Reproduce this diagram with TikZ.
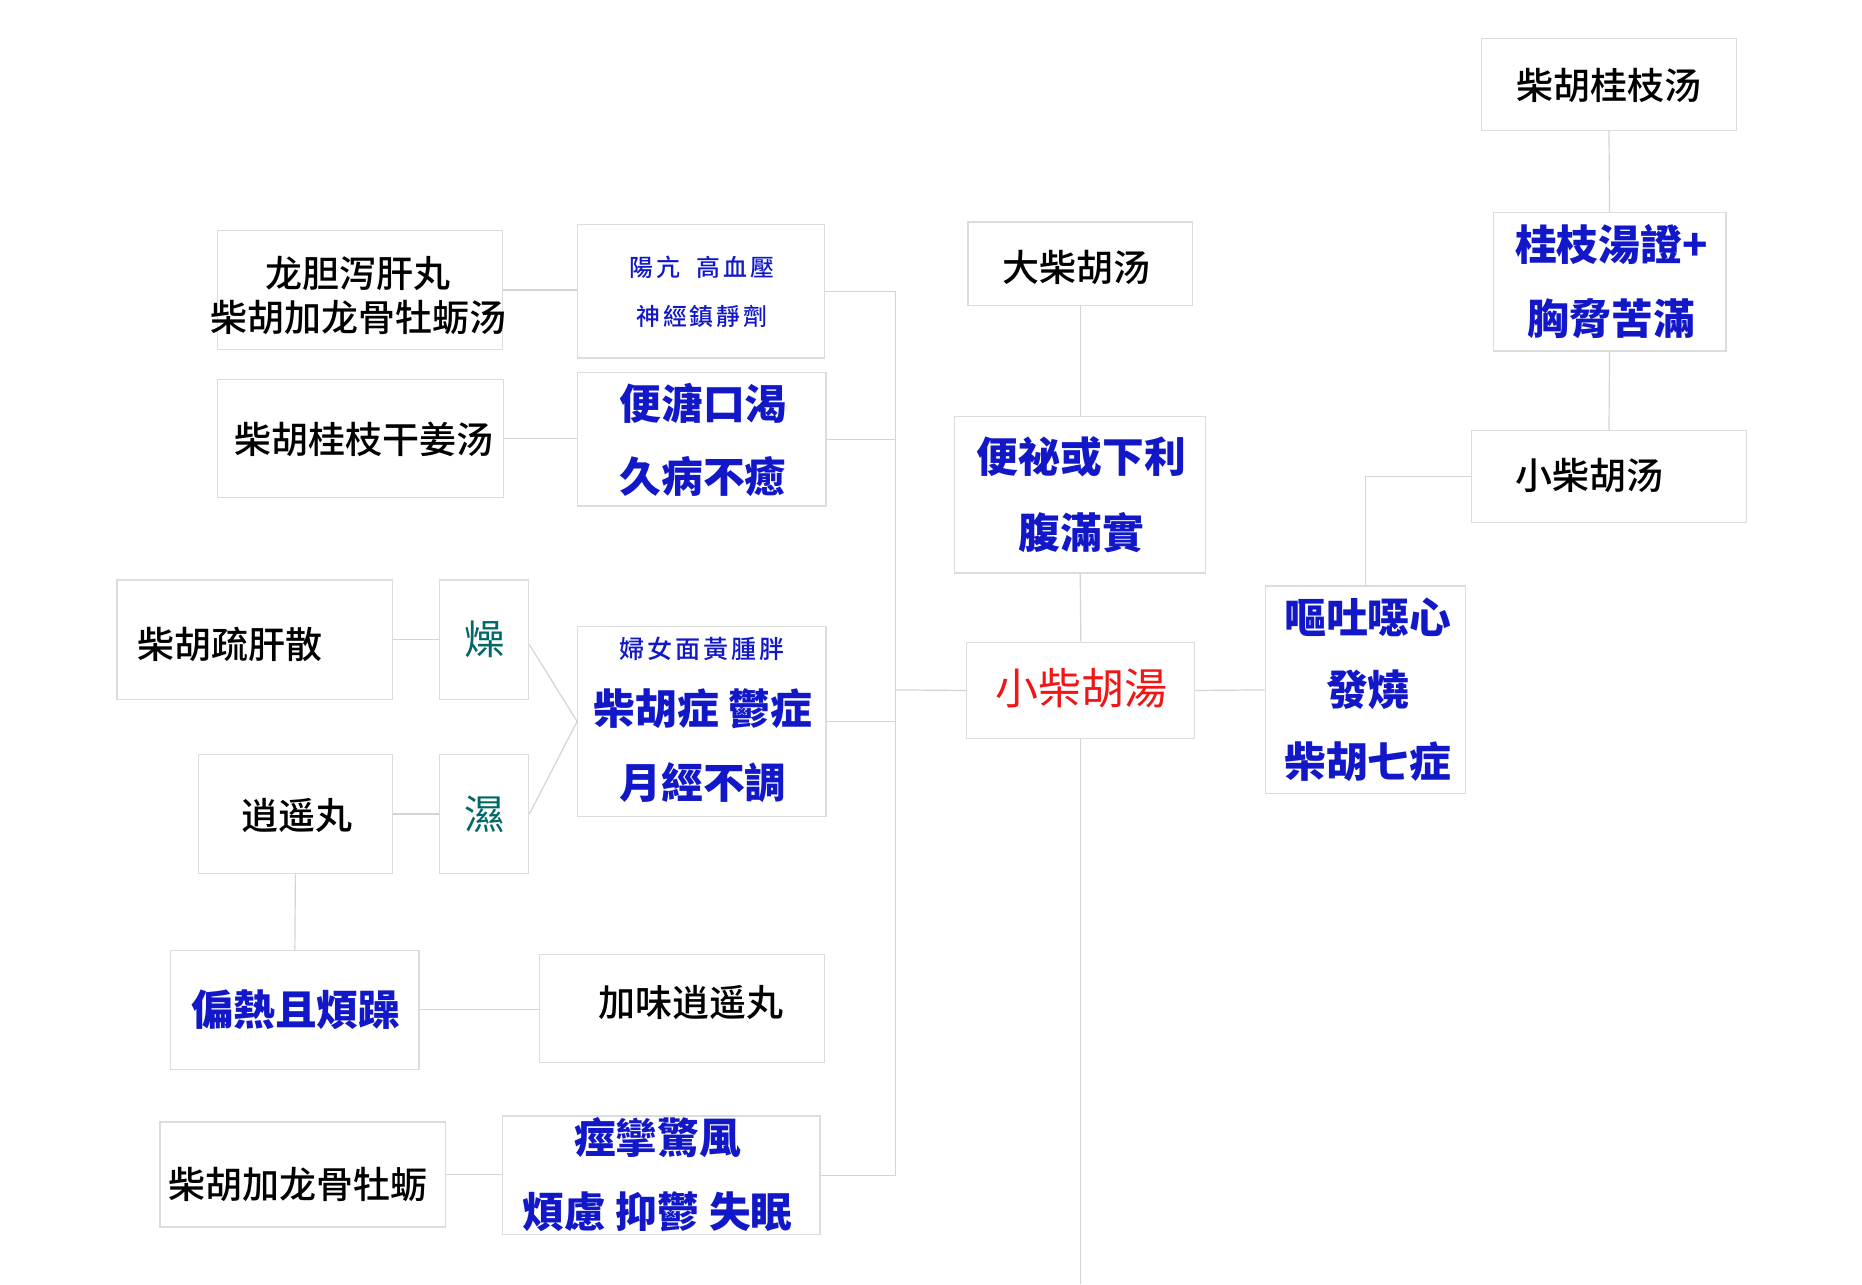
\documentclass[tikz,border=0pt]{standalone}
\usepackage{fontspec}
\newfontfamily\cjksc{Noto Sans CJK SC Medium}
\newfontfamily\cjktc{Noto Sans CJK TC}
\newfontfamily\cjktcm{Noto Sans CJK TC Medium}[LetterSpace=12]
\definecolor{xblue}{RGB}{18,24,200}
\definecolor{xred}{RGB}{240,22,22}
\definecolor{xteal}{RGB}{0,104,104}
\definecolor{linegray}{RGB}{212,212,212}
\definecolor{boxgray}{RGB}{220,220,220}
\tikzset{
  box/.style={draw=boxgray, line width=1pt, inner sep=0pt, fill=white},
  conn/.style={draw=linegray, line width=1pt},
  blk/.style={inner sep=0pt, text=black, align=center, font=\cjksc\fontsize{31}{37}\selectfont},
  blu/.style={inner sep=0pt, text=xblue, align=center, font=\cjktc\bfseries\fontsize{35}{62}\selectfont},
  blus/.style={inner sep=0pt, text=xblue, align=center, font=\cjktcm\fontsize{20}{41}\selectfont},
  redt/.style={inner sep=0pt, text=xred, font=\cjktc\fontsize{36}{40}\selectfont},
  tealt/.style={inner sep=0pt, text=xteal, font=\cjktc\fontsize{34}{40}\selectfont},
}
\begin{document}
\begin{tikzpicture}[x=1pt,y=-1pt]
\useasboundingbox[fill=white] (0,0) rectangle (1560,1076);
% boxes
\node[box, minimum width=214pt, minimum height=77pt]  (gzt)  at (1348,70.5) {};
\node[box, minimum width=195pt, minimum height=116pt] (gzz)  at (1348.5,236) {};
\node[box, minimum width=230pt, minimum height=77pt]  (xch)  at (1348,399.5) {};
\node[box, minimum width=168pt, minimum height=174pt] (otu)  at (1144,578) {};
\node[box, minimum width=191pt, minimum height=81pt]  (xchr) at (905.5,578.5) {};
\node[box, minimum width=210pt, minimum height=131pt] (bm)   at (905,414.5) {};
\node[box, minimum width=188pt, minimum height=70pt]  (dch)  at (905,221) {};
\node[box, minimum width=239pt, minimum height=100pt] (ld)   at (301.5,243) {};
\node[box, minimum width=207pt, minimum height=112pt] (yk)   at (587.5,244) {};
\node[box, minimum width=240pt, minimum height=99pt]  (gzgj) at (302,367.5) {};
\node[box, minimum width=208pt, minimum height=112pt] (bt)   at (588,368) {};
\node[box, minimum width=231pt, minimum height=100pt] (sg)   at (213.5,536) {};
\node[box, minimum width=75pt,  minimum height=100pt] (zao)  at (405.5,536) {};
\node[box, minimum width=208pt, minimum height=159pt] (fn)   at (588,604.5) {};
\node[box, minimum width=163pt, minimum height=100pt] (xy)   at (247.5,682) {};
\node[box, minimum width=75pt,  minimum height=100pt] (shi)  at (405.5,682) {};
\node[box, minimum width=208pt, minimum height=100pt] (pr)   at (247,846) {};
\node[box, minimum width=239pt, minimum height=90pt]  (jw)   at (571.5,845) {};
\node[box, minimum width=239pt, minimum height=88pt]  (lg)   at (253.5,984) {};
\node[box, minimum width=266pt, minimum height=99pt]  (jl)   at (554,984.5) {};
% free ends
\coordinate (bus) at (750,578);
\coordinate (bottom) at (907,1076);
% connectors
\draw[conn] (gzt.south) -- (gzz.north);
\draw[conn] (gzz.south) -- (xch.north);
\draw[conn] (xch.west) -| (otu.north);
\draw[conn] (otu.west) -- (xchr.east);
\draw[conn] (dch.south) -- (bm.north);
\draw[conn] (bm.south) -- (xchr.north);
\draw[conn] (xchr.south) -- (xchr.south |- bottom);
\draw[conn] (yk.east) -- (yk.east -| bus) |- (jl.east);
\draw[conn] (bt.east) -- (bt.east -| bus);
\draw[conn] (fn.east) -- (fn.east -| bus);
\draw[conn] (xchr.west) -- (bus);
\draw[conn] (ld.east) -- (ld.east -| yk.west);
\draw[conn] (gzgj.east) -- (gzgj.east -| bt.west);
\draw[conn] (sg.east) -- (zao.west);
\draw[conn] ([yshift=-4pt]zao.east) -- (fn.west);
\draw[conn] (xy.east) -- (shi.west);
\draw[conn] (shi.east) -- (fn.west);
\draw[conn] (xy.south) -- (pr.north);
\draw[conn] (pr.east) -- (pr.east -| jw.west);
\draw[conn] (lg.east) -- (lg.east -| jl.west);
% texts
\node[blk]  (t1)  at (1348,72)   {柴胡桂枝汤};
\node[blu]  (t2)  at (1350,236)  {桂枝湯證+\\胸脅苦滿};
\node[blk]  (t3)  at (1332,398)  {小柴胡汤};
\node[blu, font=\cjktc\bfseries\fontsize{35}{60.5}\selectfont] (t4) at (1146,578) {嘔吐噁心\\發燒\\柴胡七症};
\node[redt] (t5)  at (906,577)   {小柴胡湯};
\node[blu, font=\cjktc\bfseries\fontsize{35}{63}\selectfont] (t6) at (906,414.5) {便祕或下利\\腹滿實};
\node[blk]  (t7)  at (902,224)   {大柴胡汤};
\node[blk]  (t8)  at (300,247.5) {龙胆泻肝丸\\柴胡加龙骨牡蛎汤};
\node[blus] (t9)  at (588,244.5) {陽亢\hspace{0.7em}高血壓\\神經鎮靜劑};
\node[blk]  (t10) at (305,368)   {柴胡桂枝干姜汤};
\node[blu, font=\cjktc\bfseries\fontsize{35}{61}\selectfont] (t11) at (589,368.5) {便溏口渴\\久病不癒};
\node[blk]  (t12) at (193,540)   {柴胡疏肝散};
\node[tealt] (t13) at (406,536)  {燥};
\node[blus, font=\cjktcm\fontsize{21}{30}\selectfont] (t14) at (588,544) {婦女面黃腫胖};
\node[blu]  (t15) at (589,594)   {柴胡症 鬱症};
\node[blu]  (t16) at (589,656)   {月經不調};
\node[blk]  (t17) at (249,683)   {逍遥丸};
\node[tealt] (t18) at (406,682)  {濕};
\node[blu]  (t19) at (248,846)   {偏熱且煩躁};
\node[blk]  (t20) at (579,840)   {加味逍遥丸};
\node[blk]  (t21) at (249.5,992) {柴胡加龙骨牡蛎};
\node[blu]  (t22) at (551,984)   {痙攣驚風\\煩慮 抑鬱 失眠};
\end{tikzpicture}
\end{document}
